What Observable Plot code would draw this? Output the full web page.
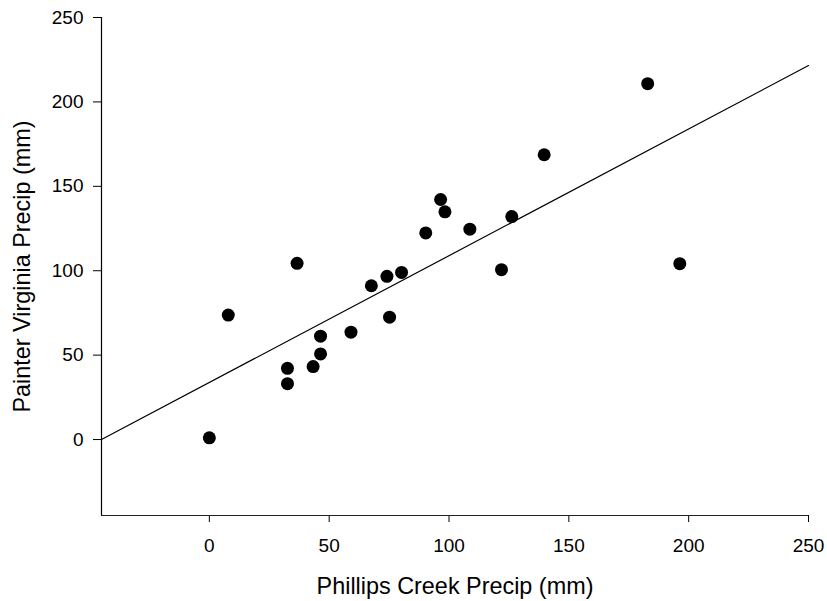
<!DOCTYPE html>
<html>
<head>
<meta charset="utf-8">
<script src="https://cdn.jsdelivr.net/npm/d3@7"></script>
<script src="https://cdn.jsdelivr.net/npm/@observablehq/plot@0.6"></script>
<style>
  html, body { margin: 0; padding: 0; background: #fff; overflow: hidden; }
  #chart svg { display: block; }
</style>
</head>
<body>
<div id="chart"></div>
<script>
// Data
const phillipsCreek = [0, 7.9, 32.6, 32.6, 43.3, 46.4, 46.4, 59.1, 75.2, 36.6, 67.6, 74.1, 80.2, 90.3, 96.5, 98.3, 108.7, 121.9, 126.2, 139.7, 182.9, 196.3];
const painterVirginia = [1, 73.7, 42.2, 33.1, 43.2, 61.2, 50.7, 63.6, 72.5, 104.4, 91.1, 96.7, 99.0, 122.4, 142.2, 134.9, 124.6, 100.6, 132.1, 168.7, 210.8, 104.2];

// Regression line (intercept, slope)
const fitIntercept = 33.8;
const fitSlope = 0.751;

const xDomain = [-45, 250];
const yDomain = [-45, 250];
const xTicks = [0, 50, 100, 150, 200, 250];
const yTicks = [0, 50, 100, 150, 200, 250];

const xTitle = "Phillips Creek Precip (mm)";
const yTitle = "Painter Virginia Precip (mm)";

const points = phillipsCreek.map((x, i) => ({x, y: painterVirginia[i]}));
const fitLine = xDomain.map(x => ({x, y: fitIntercept + fitSlope * x}));

const font = "'Liberation Sans', Arial, Helvetica, sans-serif";

const chart = Plot.plot({
  width: 827,
  height: 601,
  marginLeft: 101,
  marginRight: 19,
  marginTop: 17,
  marginBottom: 86,
  style: {fontFamily: font, fontSize: "19px", color: "#000", background: "#fff"},
  x: {domain: xDomain, ticks: xTicks, label: null},
  y: {domain: yDomain, ticks: yTicks, label: null},
  marks: [
    Plot.axisX({ticks: xTicks, tickSize: 7, tickPadding: 16, tickFormat: d => String(d), fontSize: 19, label: null}),
    Plot.axisY({ticks: yTicks, tickSize: 8, tickPadding: 10, tickFormat: d => String(d), fontSize: 19, label: null}),
    Plot.ruleX([xDomain[0]], {y1: yDomain[0], y2: yDomain[1], stroke: "#000", strokeWidth: 1.2}),
    Plot.ruleY([yDomain[0]], {x1: xDomain[0], x2: xDomain[1], stroke: "#222", strokeWidth: 1.2}),
    Plot.line(fitLine, {x: "x", y: "y", stroke: "#000", strokeWidth: 1.2}),
    Plot.dot(points, {x: "x", y: "y", r: 6.5, fill: "#000", stroke: "none"}),
    Plot.text([xTitle], {frameAnchor: "bottom", dy: 71, fontSize: 23.4, fill: "#000", textAnchor: "middle", lineAnchor: "middle"}),
    Plot.text([yTitle], {frameAnchor: "left", dx: -79, rotate: -90, fontSize: 23.4, fill: "#000", textAnchor: "middle", lineAnchor: "middle"})
  ]
});
document.getElementById("chart").appendChild(chart);
</script>
</body>
</html>
